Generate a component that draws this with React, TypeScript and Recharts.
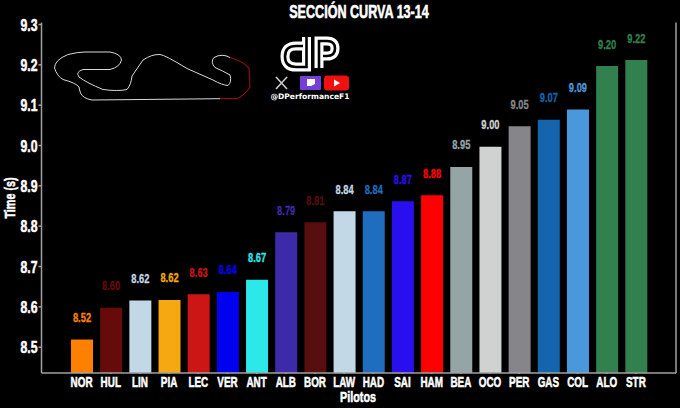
import { BarChart, Bar, Cell, XAxis, YAxis, LabelList } from "recharts"

const drivers = ["NOR","HUL","LIN","PIA","LEC","VER","ANT","ALB","BOR","LAW","HAD","SAI","HAM","BEA","OCO","PER","GAS","COL","ALO","STR"]
const times = [8.519,8.598,8.616,8.617,8.631,8.637,8.667,8.785,8.81,8.837,8.837,8.862,8.877,8.947,8.997,9.048,9.064,9.089,9.197,9.212]
const timeLabels = ["8.52","8.60","8.62","8.62","8.63","8.64","8.67","8.79","8.81","8.84","8.84","8.87","8.88","8.95","9.00","9.05","9.07","9.09","9.20","9.22"]
const barColors = ["#ff8000","#660a0a","#c2d8e6","#f5a80f","#cc1515","#0000ee","#2de8e8","#3d2aa8","#560e0e","#c2d8e6","#1f6dbe","#2a0fee","#ff0000","#95a5a6","#d0d2d2","#86868a","#1565ae","#4a98dc","#33804f","#33804f"]
const yTicks = [8.5,8.6,8.7,8.8,8.9,9.0,9.1,9.2,9.3]

const data = drivers.map((driver,i)=>({driver,time:times[i],label:timeLabels[i],color:barColors[i]}))

const FONT = "'Liberation Sans Narrow','Liberation Sans',sans-serif"
const AXIS = "#a0a0a0"

function Squeezed({x,y,size,fill="#fff",sx=0.66,rotate=0,anchor="middle",weight=0.55,children}:any){
  return(
    <text
      transform={`translate(${x},${y}) rotate(${rotate}) scale(${sx},1)`}
      textAnchor={anchor}
      fontFamily={FONT}
      fontWeight="bold"
      fontSize={size}
      fill={fill}
      stroke={fill}
      strokeWidth={weight}
    >
      {children}
    </text>
  )
}

function XTick({x,y,payload}:any){
  return <Squeezed x={x} y={y+13} size={15}>{payload.value}</Squeezed>
}

function YTick({x,y,payload}:any){
  return <Squeezed x={x+1} y={y+6} size={17} sx={0.72} anchor="end">{payload.value.toFixed(1)}</Squeezed>
}

function ValueLabel({x,y,width,index}:any){
  return <Squeezed x={x+width/2} y={y-17.5} size={13} fill={barColors[index]} sx={0.72} weight={0.3}>{timeLabels[index]}</Squeezed>
}

function Overlay(){
  const dPath = "M306.5 37 L306.5 67 L296 67 Q285 67 285 56.5 Q285 46 296 46 L303 46"
  const pPath = "M319 68 L319 41 L327 41 Q335 41 335 48.5 Q335 56 327 56 L323 56"
  return(
    <svg width={680} height={408} style={{position:"absolute",left:0,top:0,pointerEvents:"none"}}>
      <Squeezed x={359} y={18} size={18} sx={0.7} weight={0.6}>SECCIÓN CURVA 13-14</Squeezed>
      <Squeezed x={358} y={402} size={15} sx={0.72}>Pilotos</Squeezed>
      <Squeezed x={15} y={198} size={15} sx={0.72} rotate={-90}>Time (s)</Squeezed>

      {/* track map */}
      <path
        d="M220 98.7 L92 100 Q83 98.5 80.5 93 Q79 88 79 87 Q76 83 63 79.5 Q57 76 54.5 68 Q54.5 60 68 54.5 Q78 52 85 52 L110 52 Q121 54 121.5 60 Q120 67 110 69.5 L83 69.5 Q75 72 79 77 Q87 83 103 89.5 Q118 91.5 127 89.5 Q131 85 132 76 L143 60 Q152 54 160 54.5 Q165 55 187 68.5 L213 80 Q222 85 228 85.5 Q232 82 230 75 Q223 71 215 67.5 Q210 62 214 57.5 Q222 53 230 57.5"
        fill="none" stroke="#d8d8d8" strokeWidth={1}
      />
      <path
        d="M230 57.5 Q243 61 249 68 L250 87 Q245 95 237 98.7 L220 98.7"
        fill="none" stroke="#8e0f0f" strokeWidth={1.2}
      />

      {/* logo */}
      <g fill="none">
        <path d={dPath} stroke="#fff" strokeWidth={9}/>
        <path d={dPath} stroke="#000" strokeWidth={2.6}/>
        <path d={pPath} stroke="#fff" strokeWidth={9}/>
        <path d={pPath} stroke="#000" strokeWidth={2.6}/>
      </g>
      <path d="M276 77 L287 89 M287 77 L276 89" stroke="#cfcfcf" strokeWidth={1.5}/>
      <rect x={300} y={76} width={21} height={14} rx={1} fill="#7540d8"/>
      <path d="M307 79 L315 79 L315 84 L311 86 L307 86 Z" fill="#fff"/>
      <rect x={324} y={75.5} width={25} height={15} rx={3.5} fill="#f01010"/>
      <path d="M334 79.5 L340 83 L334 86.5 Z" fill="#fff"/>
      <text x={310} y={99} textAnchor="middle" fontFamily="'DejaVu Sans',sans-serif" fontWeight="bold" fontSize={7.6} fill="#fff">@DPerformanceF1</text>
    </svg>
  )
}

export default function App(){
  return(
    <div style={{position:"relative",width:680,height:408,background:"#000"}}>
      <style>{"body{margin:0;background:#000}"}</style>
      <BarChart
        width={680}
        height={408}
        data={data}
        barCategoryGap={0}
        margin={{top:22.5,right:0,bottom:0,left:0}}
      >
        <XAxis
          dataKey="driver"
          height={35}
          interval={0}
          padding={{left:25.5,right:25.5}}
          stroke={AXIS}
          strokeWidth={1.5}
          tickSize={1}
          tickMargin={0}
          tick={<XTick/>}
        />
        <XAxis xAxisId="top" orientation="top" dataKey="driver" height={0} tick={false} tickLine={false} stroke={AXIS} strokeWidth={1.5}/>
        <YAxis
          domain={[8.436,9.305]}
          ticks={yTicks}
          allowDataOverflow
          width={41.5}
          stroke={AXIS}
          strokeWidth={1.5}
          tickSize={3}
          tick={<YTick/>}
        />
        <YAxis yAxisId="right" orientation="right" domain={[8.436,9.305]} width={4} tick={false} tickLine={false} stroke={AXIS} strokeWidth={1.5}/>
        <Bar dataKey="time" barSize={22} isAnimationActive={false}>
          {data.map((d)=>(
            <Cell key={d.driver} fill={d.color}/>
          ))}
          <LabelList dataKey="label" content={<ValueLabel/>}/>
        </Bar>
      </BarChart>
      <Overlay/>
    </div>
  )
}
